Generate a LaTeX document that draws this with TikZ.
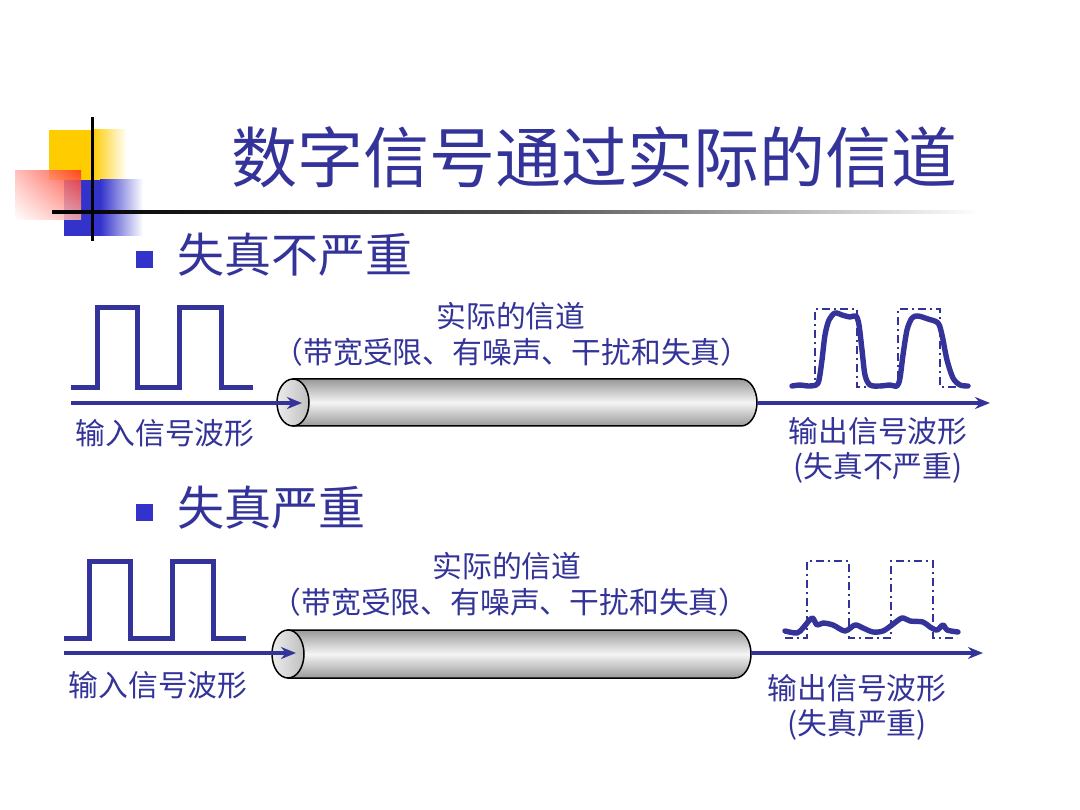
\documentclass[tikz,border=0pt]{standalone}
\usepackage{fontspec}
\newfontfamily\cjk{Noto Sans CJK SC}
\usetikzlibrary{arrows.meta,shadings}
\definecolor{SlideBlue}{HTML}{333399}
\definecolor{LogoBlue}{HTML}{3333CC}
\definecolor{LogoYellow}{HTML}{FFCC00}
\definecolor{LogoRed}{HTML}{FF3322}
\tikzset{
  wave/.style={SlideBlue,line width=5pt},
  ideal/.style={SlideBlue,line width=2.6pt,dash pattern=on 8pt off 4pt on 2pt off 4pt},
  trace/.style={SlideBlue,line width=5.4pt,line join=round,line cap=round},
  flow/.style={SlideBlue,line width=3.4pt,-{Stealth[length=15pt,width=12pt]}},
  cylbody/.style={draw=black,line width=1.5pt,top color=gray!80,bottom color=gray!80,middle color=gray!8},
  cylface/.style={draw=black,line width=1.5pt,left color=gray!15,right color=gray!50},
  lbl/.style={text=SlideBlue,font=\cjk\fontsize{29.8}{35}\selectfont,inner sep=0pt,align=center},
  head/.style={text=SlideBlue,font=\cjk\fontsize{47}{52}\selectfont,inner sep=0pt,anchor=west},
  bullet/.style={fill=LogoBlue},
}

\begin{document}
\begin{tikzpicture}[x=1pt,y=-1pt]
  \useasboundingbox[fill=white] (0,0) rectangle (1080,810);

  % logo and rule
  \fill[LogoYellow] (49,130) rectangle (92,180);
  \shade[left color=LogoYellow,right color=white] (92,130) rectangle (127,180);
  \fill[LogoBlue] (64,180) rectangle (100,236);
  \shade[left color=LogoBlue,right color=white] (100,180) rectangle (143,236);
  \shade[upper right=LogoRed,upper left=LogoRed!35,lower right=LogoRed!40,lower left=white,opacity=0.85]
    (15,171) rectangle (81,220);
  \shade[left color=black,right color=white,middle color=black!70] (52,210.5) rectangle (980,213.5);
  \draw[black,line width=3pt] (92,117) -- (92,241);

  \node[text=SlideBlue,font=\cjk\fontsize{66}{72}\selectfont,inner sep=0pt,anchor=west]
    (title) at (231,157) {数字信号通过实际的信道};

  % mild distortion
  \fill[bullet] (136,251) rectangle (153,268);
  \node[head] (headA) at (177,255) {失真不严重};
  \draw[wave] (71,388) -| (97,308) -| (137,388) -| (179,308) -| (221,388) -- (253,388);
  \node[lbl] (inlblA) at (165,433) {输入信号波形};
  \node[lbl] (chanA) at (511,316) {实际的信道};
  \node[lbl] (noteA) at (512,352) {（带宽受限、有噪声、干扰和失真）};
  \draw[cylbody] (293,379) -- (741,379) arc[start angle=-90,end angle=90,x radius=16,y radius=23.5] -- (293,426) -- cycle;
  \draw[cylface] (293,402.5) ellipse[x radius=16,y radius=23.5];
  \coordinate (inA) at (71,403);
  \coordinate (faceA) at (302,403);
  \coordinate (endA) at (757,403);
  \coordinate (outA) at (990,403);
  \draw[flow] (inA) -- (faceA);
  \draw[flow] (endA) -- (outA);
  \draw[ideal] (792,387) -| (815,309) -| (857,387) -| (898,309) -| (940,387) -- (968,387);
  \draw[trace] plot[smooth,tension=0.5] coordinates {(792,386) (800,385) (808,386) (816,385) (819,380)
    (822,360) (825,335) (829,320) (835,313) (842,315) (850,317) (856,316) (859,325) (862,350)
    (865,375) (870,385) (880,386) (890,385) (897,386) (900,378) (903,355) (907,330) (912,318)
    (918,316) (928,319) (938,323) (942,335) (947,360) (953,378) (960,385) (968,386)};
  \node[lbl] (outlblA) at (878,450) {输出信号波形\\(失真不严重)};

  % severe distortion
  \fill[bullet] (136,504) rectangle (153,521);
  \node[head] (headB) at (177,508) {失真严重};
  \draw[wave] (64,638) -| (89,561) -| (130,638) -| (172,561) -| (213,638) -- (246,638);
  \node[lbl] (inlblB) at (158,685) {输入信号波形};
  \node[lbl] (chanB) at (507,566) {实际的信道};
  \node[lbl] (noteB) at (510,602) {（带宽受限、有噪声、干扰和失真）};
  \draw[cylbody] (288,630) -- (735,630) arc[start angle=-90,end angle=90,x radius=16,y radius=24] -- (288,678) -- cycle;
  \draw[cylface] (288,654) ellipse[x radius=16,y radius=24];
  \coordinate (inB) at (64,653);
  \coordinate (faceB) at (296,653);
  \coordinate (endB) at (751,653);
  \coordinate (outB) at (983,653);
  \draw[flow] (inB) -- (faceB);
  \draw[flow] (endB) -- (outB);
  \draw[ideal] (785,638) -| (807,561) -| (849,638) -| (891,561) -| (933,638) -- (957,638);
  \draw[trace] plot[smooth,tension=0.5] coordinates {(785,631) (797,633) (803,628) (812,618) (817,625)
    (823,623) (833,625) (845,631) (855,625) (863,628) (873,632) (883,631) (892,625) (902,618)
    (910,621) (923,622) (930,627) (937,630) (943,625) (947,630) (958,632)};
  \node[lbl] (outlblB) at (857,707) {输出信号波形\\(失真严重)};
\end{tikzpicture}
\end{document}
